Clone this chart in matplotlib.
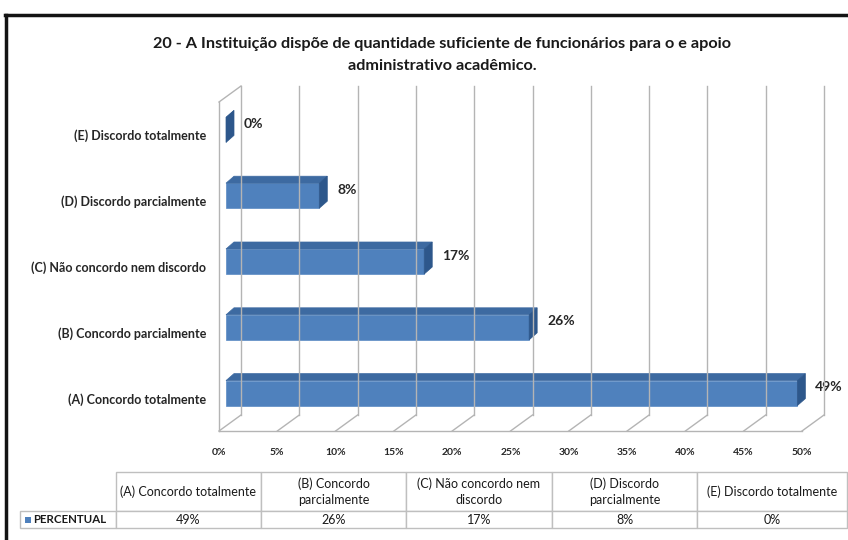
import matplotlib
matplotlib.use("Agg")
import matplotlib.pyplot as plt
import matplotlib.transforms as mtransforms
from matplotlib.lines import Line2D
from matplotlib.patches import Polygon, Rectangle

plt.rcParams['font.family'] = ['Lato', 'DejaVu Sans']

title = ("20 - A Instituição dispõe de quantidade suficiente de funcionários para o e apoio\n"
         "administrativo acadêmico.")
categories = ["(A) Concordo totalmente", "(B) Concordo parcialmente",
              "(C) Não concordo nem discordo", "(D) Discordo parcialmente",
              "(E) Discordo totalmente"]
percent = [49, 26, 17, 8, 0]
table_headers = ["(A) Concordo totalmente", "(B) Concordo\nparcialmente",
                 "(C) Não concordo nem\ndiscordo", "(D) Discordo\nparcialmente",
                 "(E) Discordo totalmente"]
series_name = "PERCENTUAL"
xticks = list(range(0, 51, 5))

W, H = 848, 540
DX, DY = 22, 16      # depth of the 3d box (pixels)
BX, BY = 7, 5        # bar front face offset
BDX, BDY = 8, 7      # bar depth
BAR_H = 0.38
GRID = '#b4b4b4'
FRONT = '#4f81bd'
TOP = '#3d6aa1'
SIDE = '#2d578b'


def main():
    fig = plt.figure(figsize=(W / 100, H / 100), dpi=100)
    ax = fig.add_axes([219 / W, 1 - 431 / H, 583 / W, 329 / H])
    ax.set_xlim(0, 50)
    ax.set_ylim(-0.5, len(categories) - 0.5)
    ax.patch.set_visible(False)
    for s in ax.spines.values():
        s.set_visible(False)

    ident = mtransforms.IdentityTransform()

    def px(x, y, ox=0, oy=0):
        p = ax.transData.transform((x, y))
        return (p[0] + ox, p[1] + oy)

    def line(a, b, **kw):
        fig.add_artist(Line2D([a[0], b[0]], [a[1], b[1]], transform=ident,
                              color=GRID, lw=1, **kw))

    ytop = len(categories) - 0.5
    # back wall gridlines and floor
    for t in xticks:
        line(px(t, -0.5, DX, DY), px(t, ytop, DX, DY))
        line(px(t, -0.5), px(t, -0.5, DX, DY))
    line(px(0, -0.5), px(50, -0.5))
    # left wall
    line(px(0, -0.5), px(0, ytop))
    line(px(0, ytop), px(0, ytop, DX, DY))

    # 3d bars
    for i, v in enumerate(percent):
        fl = px(0, i - BAR_H / 2, BX, BY)
        fr = px(v, i - BAR_H / 2, BX, BY)
        tr = px(v, i + BAR_H / 2, BX, BY)
        tl = px(0, i + BAR_H / 2, BX, BY)
        d = lambda p: (p[0] + BDX, p[1] + BDY)
        fig.add_artist(Polygon([fl, fr, tr, tl], closed=True, transform=ident,
                               fc=FRONT, ec='#5a8ac4', lw=0.5))
        fig.add_artist(Polygon([tl, tr, d(tr), d(tl)], closed=True, transform=ident,
                               fc=TOP, ec=TOP, lw=0.5))
        fig.add_artist(Polygon([fr, tr, d(tr), d(fr)], closed=True, transform=ident,
                               fc=SIDE, ec=SIDE, lw=0.5))

    lab_tr = mtransforms.offset_copy(ax.transData, fig, x=25, y=11, units='dots')
    for i, v in enumerate(percent):
        ax.text(v, i, f"{v}%", transform=lab_tr, ha='left', va='center',
                fontsize=10, fontweight='bold', color='#262626', clip_on=False)

    ax.set_xticks(xticks, [f"{t}%" for t in xticks])
    ax.set_yticks(range(len(categories)), categories)
    ax.tick_params(axis='x', length=0, pad=12, labelsize=7.5, labelcolor='#262626')
    ax.tick_params(axis='y', length=0, pad=9.4, labelsize=9, labelcolor='#262626')
    for lab in ax.get_xticklabels() + ax.get_yticklabels():
        lab.set_fontweight('bold')

    fig.text(442 / W, 1 - 55 / H, title, ha='center', va='center', fontsize=11.7,
             fontweight='bold', linespacing=1.7, color='#1a1a1a')

    # data table (first column holds the series name)
    tax = fig.add_axes([0, 0, 1, 1])
    tax.axis('off')
    tbl = tax.table(cellText=[[series_name] + [f"{v}%" for v in percent]],
                    colLabels=[""] + table_headers, cellLoc='center',
                    colWidths=[96, 145, 145, 146, 145, 150],
                    bbox=[20 / W, 1 - 528 / H, 827 / W, 56 / H])
    tbl.auto_set_font_size(False)
    tbl.set_fontsize(9)
    for (r, c), cell in tbl.get_celld().items():
        cell.set_edgecolor('#bfbfbf')
        cell.set_linewidth(1)
        cell.set_height(39 if r == 0 else 17)
        cell.get_text().set_color('#1a1a1a')
        cell.get_text().set_linespacing(1.35)
    tbl[(0, 0)].set_visible(False)
    rl = tbl[(1, 0)]
    rl._loc = 'left'
    rl.get_text().set_horizontalalignment('left')
    rl.PAD = 0.14
    rl.get_text().set_fontweight('bold')
    rl.get_text().set_fontsize(8.3)
    fig.add_artist(Rectangle((25 / W, 1 - 523 / H), 6 / W, 6 / H,
                             transform=fig.transFigure, fc=FRONT, ec='none'))

    # outer frame
    fig.add_artist(Line2D([5 / W, 1], [1 - 15 / H] * 2, transform=fig.transFigure,
                          color='#141414', lw=2.5))
    fig.add_artist(Line2D([6 / W] * 2, [0, 1 - 15 / H], transform=fig.transFigure,
                          color='#141414', lw=2.5))

    fig.savefig("out.png", dpi=100)


if __name__ == '__main__':
    main()
